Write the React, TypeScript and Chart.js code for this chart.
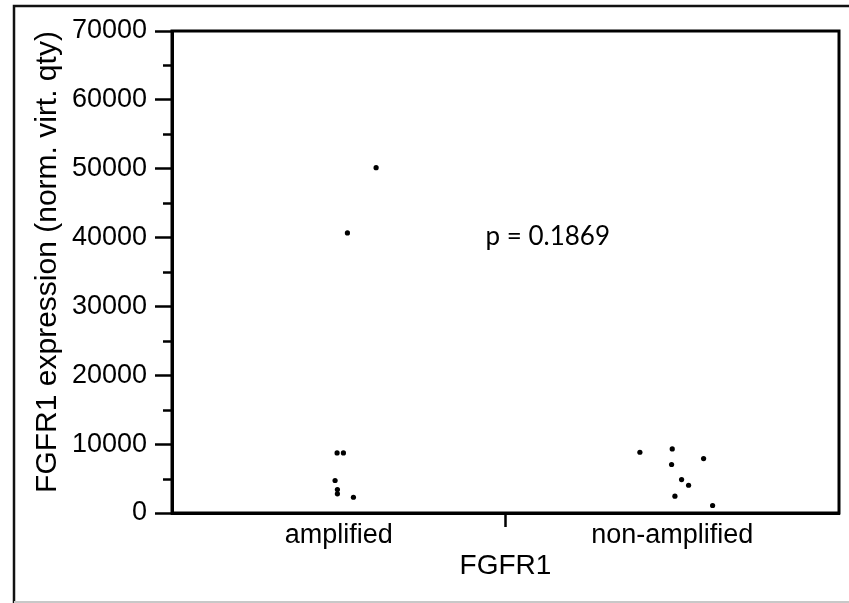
import React, { useEffect, useRef } from 'react';
import { Chart, registerables } from 'chart.js';

Chart.register(...registerables);

const categories = ['amplified', 'non-amplified'];
const categoryPositions = [0.5, 1.5];
const separatorTick = 1;

const amplifiedX = [0.612, 0.526, 0.495, 0.514, 0.489, 0.496, 0.496, 0.544];
const amplifiedY = [50150, 40680, 8730, 8730, 4720, 3410, 2790, 2290];

const nonAmplifiedX = [1.403, 1.5, 1.498, 1.594, 1.528, 1.549, 1.508, 1.621];
const nonAmplifiedY = [8820, 9310, 7040, 7910, 4860, 4030, 2440, 1090];

const yMajorTicks = [0, 10000, 20000, 30000, 40000, 50000, 60000, 70000];
const yMinorTicks = [5000, 15000, 25000, 35000, 45000, 55000, 65000];

const xTitle = 'FGFR1';
const yTitle = 'FGFR1 expression (norm. virt. qty)';
const pValueLabel = 'p = 0.1869';
const pValueAnchor = { x: 0.94, y: 38950 };

const FONT = '"Liberation Sans", Arial, Helvetica, sans-serif';

export default function App() {
  const canvasRef = useRef<HTMLCanvasElement | null>(null);

  useEffect(() => {
    const canvas = canvasRef.current;
    if (!canvas) return;

    const decorPlugin = {
      id: 'decor',
      afterDraw(chart: any) {
        const ctx = chart.ctx;
        const area = chart.chartArea;
        const xs = chart.scales.x;
        const ys = chart.scales.y;
        ctx.save();
        // outer frame
        ctx.strokeStyle = '#111';
        ctx.lineWidth = 2.5;
        ctx.beginPath();
        ctx.moveTo(14, 603);
        ctx.lineTo(14, 6);
        ctx.lineTo(849, 6);
        ctx.stroke();
        ctx.strokeStyle = '#c8c8c8';
        ctx.lineWidth = 2;
        ctx.beginPath();
        ctx.moveTo(14, 602);
        ctx.lineTo(849, 602);
        ctx.stroke();

        // plot box
        ctx.strokeStyle = '#000';
        ctx.lineWidth = 3;
        ctx.strokeRect(area.left, area.top, area.right - area.left, area.bottom - area.top);

        // minor ticks
        ctx.lineWidth = 2.5;
        ctx.beginPath();
        for (const v of yMinorTicks) {
          const py = Math.round(ys.getPixelForValue(v)) + 0.5;
          ctx.moveTo(area.left - 9, py);
          ctx.lineTo(area.left, py);
        }
        ctx.stroke();

        // y title
        ctx.fillStyle = '#000';
        ctx.font = `30px ${FONT}`;
        ctx.textAlign = 'center';
        ctx.textBaseline = 'alphabetic';
        ctx.translate(56, 262);
        ctx.rotate(-Math.PI / 2);
        ctx.fillText(yTitle, 0, 0);
        ctx.setTransform(1, 0, 0, 1, 0, 0);

        // p value
        ctx.font = '26px Lato, "Open Sans", sans-serif';
        ctx.textAlign = 'left';
        ctx.textBaseline = 'alphabetic';
        ctx.fillText(pValueLabel, xs.getPixelForValue(pValueAnchor.x), ys.getPixelForValue(pValueAnchor.y));
        ctx.restore();
      },
    };

    const chart = new Chart(canvas, {
      type: 'scatter',
      data: {
        datasets: [
          {
            label: categories[0],
            data: amplifiedX.map((x, i) => ({ x, y: amplifiedY[i] })),
            backgroundColor: '#000',
            borderWidth: 0,
            pointRadius: 2.6,
          },
          {
            label: categories[1],
            data: nonAmplifiedX.map((x, i) => ({ x, y: nonAmplifiedY[i] })),
            backgroundColor: '#000',
            borderWidth: 0,
            pointRadius: 2.6,
          },
        ],
      },
      options: {
        responsive: false,
        animation: false,
        layout: { padding: { top: 31, right: 10, left: 0, bottom: 0 } },
        plugins: { legend: { display: false }, tooltip: { enabled: false } },
        scales: {
          x: {
            type: 'linear',
            min: 0,
            max: 2,
            afterBuildTicks: (scale: any) => {
              scale.ticks = [
                { value: categoryPositions[0] },
                { value: separatorTick },
                { value: categoryPositions[1] },
              ];
            },
            afterFit: (scale: any) => {
              scale.height = 90;
            },
            ticks: {
              autoSkip: false,
              maxRotation: 0,
              color: '#000',
              font: { family: FONT, size: 27 },
              padding: -8,
              callback: (value: any) => {
                const idx = categoryPositions.indexOf(Number(value));
                return idx >= 0 ? categories[idx] : '';
              },
            },
            grid: {
              drawOnChartArea: false,
              tickLength: 14,
              tickWidth: 2.5,
              tickColor: (ctx: any) => (ctx.tick && ctx.tick.value === separatorTick ? '#000' : 'rgba(0,0,0,0)'),
            },
            border: { color: '#000', width: 3 },
            title: {
              display: true,
              text: xTitle,
              color: '#000',
              font: { family: FONT, size: 28 },
              padding: { top: 0, bottom: 20 },
            },
          },
          y: {
            type: 'linear',
            min: 0,
            max: 70000,
            afterBuildTicks: (scale: any) => {
              scale.ticks = yMajorTicks.map((v) => ({ value: v }));
            },
            afterFit: (scale: any) => {
              scale.width = 172;
            },
            ticks: {
              color: '#000',
              font: { family: FONT, size: 27 },
              padding: 8,
              callback: (value: any) => String(value),
            },
            grid: {
              drawOnChartArea: false,
              tickLength: 17,
              tickWidth: 2.5,
              tickColor: '#000',
            },
            border: { color: '#000', width: 3 },
          },
        },
      },
      plugins: [decorPlugin],
    });

    return () => chart.destroy();
  }, []);

  return (
    <div style={{ position: 'fixed', left: 0, top: 0, width: 849, height: 603, background: '#fff' }}>
      <canvas ref={canvasRef} width={849} height={603} style={{ display: 'block' }} />
    </div>
  );
}
